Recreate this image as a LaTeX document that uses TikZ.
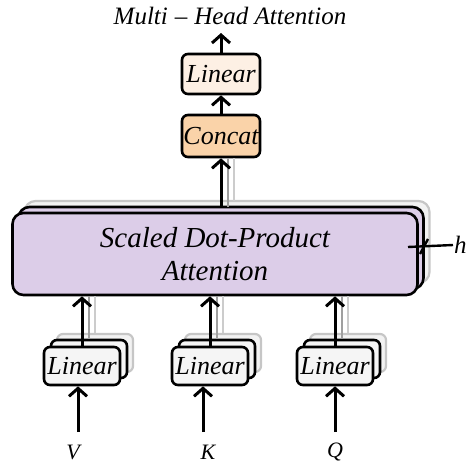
\documentclass[tikz,border=0pt]{standalone}
\usepackage{fontspec}
\setmainfont{Liberation Serif}
\definecolor{mhlin}{HTML}{FDF0E4}
\definecolor{mhcat}{HTML}{FAD3A9}
\definecolor{mhatt}{HTML}{DCCDE8}
\definecolor{mhinp}{HTML}{F5F5F5}
\usetikzlibrary{arrows.meta, positioning}

\begin{document}
\begin{tikzpicture}[x=1pt, y=-1pt,
  blk/.style={rounded corners=6pt, draw, line width=2.6pt, inner sep=0pt,
              font=\fontsize{26}{30}\selectfont\itshape, align=center},
  ghost/.style={rounded corners=6pt, draw=gray!45, line width=2.2pt, fill=gray!10},
  arw/.style={line width=3pt, -{Straight Barb[length=8pt, width=18pt, line width=3pt]}},
  shd/.style={line width=1.8pt},
  lbl/.style={font=\fontsize{22}{26}\selectfont\itshape},
]
  \useasboundingbox (0,0) rectangle (471,464);

  % Title
  \node[lbl, font=\fontsize{25}{28}\selectfont\itshape] (title) at (230,16) {Multi\;--\;Head Attention};

  % Output Linear and Concat
  \node[blk, fill=mhlin, minimum width=78pt, minimum height=40pt] (outlin) at (221,74) {Linear};
  \node[blk, fill=mhcat, minimum width=78pt, minimum height=42pt] (concat) at (221,136) {Concat};
  \coordinate (outtop) at (221,33);
  \draw[arw] (outlin.north) -- (outtop);
  \draw[arw] (concat.north) -- (outlin.south);

  % Scaled Dot-Product Attention (stacked h times)
  \node[ghost, rounded corners=11pt, minimum width=405pt, minimum height=82pt] (att-b2) at (227,242) {};
  \node[blk, rounded corners=11pt, fill=mhatt, minimum width=405pt, minimum height=82pt] (att-b1) at (221,248) {};
  \node[blk, rounded corners=11pt, fill=mhatt, minimum width=405pt, minimum height=82pt,
        font=\fontsize{29}{33}\selectfont\itshape] (att) at (215,254) {Scaled Dot-Product\\Attention};

  % attention -> concat
  \coordinate (sh2) at (234,201);
  \coordinate (sh1) at (228,207);
  \draw[shd, gray!40] (sh2) -- (sh2 |- concat.south);
  \draw[shd, gray!75] (sh1) -- (sh1 |- concat.south);
  \draw[arw] (att-b1.north -| concat.south) -- (concat.south);

  % h marker
  \coordinate (hfrom) at (408,247);
  \node[lbl, font=\fontsize{25}{28}\selectfont\itshape, anchor=west, inner sep=1pt] (hh) at (453,245) {h};
  \draw[line width=2.4pt] (hfrom) -- (hh.west);
  \coordinate (tka) at (420,254);
  \coordinate (tkb) at (428,239);
  \draw[line width=2.4pt] (tka) -- (tkb);

  % Input Linear boxes
  \foreach \nm/\xx in {vlin/82, klin/210, qlin/335} {
    \node[ghost, minimum width=76pt, minimum height=38pt] (\nm-b2) at (\xx+13,353) {};
    \node[blk, fill=mhinp, minimum width=76pt, minimum height=38pt] (\nm-b1) at (\xx+7,359) {};
    \node[blk, fill=mhinp, minimum width=76pt, minimum height=38pt] (\nm) at (\xx,366) {Linear};
  }

  % Linear -> attention
  \foreach \nm in {vlin, klin, qlin} {
    \draw[shd, gray!40] (\nm-b2.north) -- (\nm-b2.north |- att.south);
    \draw[shd, gray!75] (\nm-b1.north) -- (\nm-b1.north |- att.south);
    \draw[arw] (\nm.north) -- (\nm.north |- att.south);
  }

  % Inputs
  \node[lbl] (vv) at (73,452) {V};
  \node[lbl] (kk) at (208,452) {K};
  \node[lbl] (qq) at (335,452) {Q};
  \coordinate (vin) at (78,432);
  \coordinate (kin) at (203,432);
  \coordinate (qin) at (335,432);
  \draw[arw] (vin) -- (vin |- vlin.south);
  \draw[arw] (kin) -- (kin |- klin.south);
  \draw[arw] (qin) -- (qin |- qlin.south);
\end{tikzpicture}
\end{document}
